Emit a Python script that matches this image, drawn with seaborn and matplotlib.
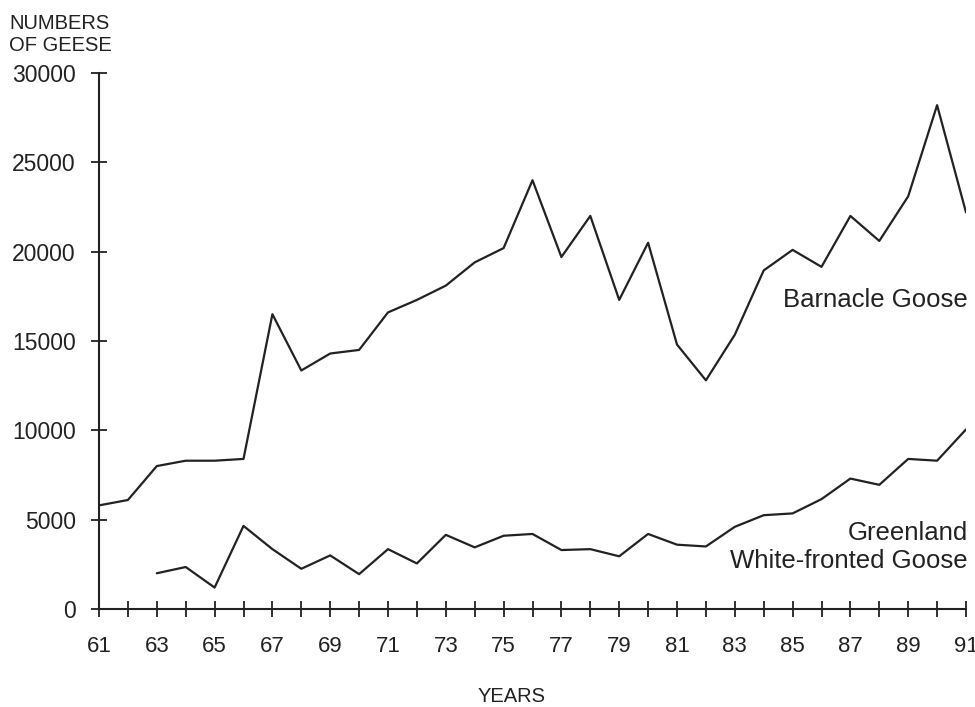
import numpy as np
import pandas as pd
import matplotlib
matplotlib.use("Agg")
import matplotlib.pyplot as plt
import seaborn as sns

# ---- data ----
barnacle_years = list(range(61, 92))
barnacle_counts = [5800, 6100, 8000, 8300, 8300, 8400, 16500, 13350, 14300, 14500,
                   16600, 17300, 18100, 19400, 20200, 24000, 19700, 22000, 17300, 20500,
                   14800, 12800, 15350, 18950, 20100, 19150, 22000, 20600, 23100, 28200,
                   22200]
greenland_years = list(range(63, 92))
greenland_counts = [2000, 2350, 1200, 4650, 3350, 2250, 3000, 1950, 3350, 2550,
                    4150, 3450, 4100, 4200, 3300, 3350, 2950, 4200, 3600, 3500,
                    4600, 5250, 5350, 6150, 7300, 6950, 8400, 8300, 10050]
x_tick_years = list(range(61, 92))
x_tick_labels = [str(y) if y % 2 == 1 else "" for y in x_tick_years]
y_ticks = [0, 5000, 10000, 15000, 20000, 25000, 30000]
y_tick_labels = [str(v) for v in y_ticks]

df = pd.concat([
    pd.DataFrame({"year": barnacle_years, "count": barnacle_counts, "species": "Barnacle Goose"}),
    pd.DataFrame({"year": greenland_years, "count": greenland_counts, "species": "Greenland White-fronted Goose"}),
], ignore_index=True)

sns.set_theme(style="white")
plt.rcParams["font.family"] = ["Liberation Sans", "DejaVu Sans"]

ink = "#222222"
fig = plt.figure(figsize=(9.75, 7.07), dpi=100)
ax = fig.add_axes([99 / 975, 1 - 609 / 707, (966 - 99) / 975, (609 - 73) / 707])

sns.lineplot(data=df, x="year", y="count", hue="species",
             palette={"Barnacle Goose": ink, "Greenland White-fronted Goose": ink},
             linewidth=1.6, legend=False, ax=ax, estimator=None)

ax.set_xlim(61, 91)
ax.set_ylim(0, 30000)
for s in ["top", "right"]:
    ax.spines[s].set_visible(False)
for s in ["left", "bottom"]:
    ax.spines[s].set_color(ink)
    ax.spines[s].set_linewidth(1.5)

ax.set_xticks(x_tick_years)
ax.set_xticklabels(x_tick_labels)
ax.set_yticks(y_ticks)
ax.set_yticklabels(y_tick_labels)
ax.tick_params(axis="x", which="major", bottom=True, direction="inout", length=11.5,
               width=1.3, color=ink, pad=14, labelsize=16, labelcolor=ink)
ax.tick_params(axis="y", which="major", left=True, direction="inout", length=11.5,
               width=1.3, color=ink, pad=11, labelsize=16.5, labelcolor=ink)
ax.set_xlabel("")
ax.set_ylabel("")
ax.grid(False)

fig.text(9 / 975, 1 - 14 / 707, "NUMBERS\nOF GEESE", ha="left", va="top",
         fontsize=14.5, color=ink, linespacing=1.2)
fig.text(512 / 975, 1 - 696 / 707, "YEARS", ha="center", va="center",
         fontsize=14.5, color=ink)
fig.text(968 / 975, 1 - 300 / 707, "Barnacle Goose", ha="right", va="center",
         fontsize=18.5, color=ink)
fig.text(968 / 975, 1 - 547 / 707, "Greenland\nWhite-fronted Goose", ha="right",
         va="center", fontsize=18.5, color=ink, multialignment="right", linespacing=1.2)

fig.savefig("out.png", dpi=100, facecolor="white")
